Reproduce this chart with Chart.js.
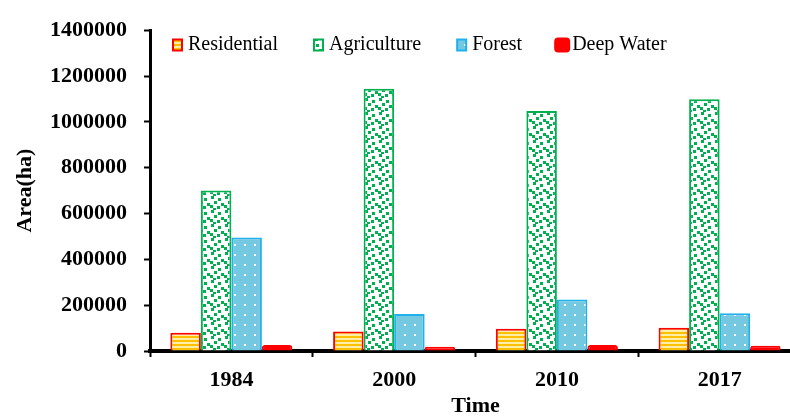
<!DOCTYPE html>
<html>
<head>
<meta charset="utf-8">
<script src="https://cdn.jsdelivr.net/npm/chart.js@4/dist/chart.umd.min.js"></script>
<style>
  html, body { margin: 0; padding: 0; background: #ffffff; overflow: hidden; }
  #wrap { width: 790px; height: 417px; overflow: hidden; }
  canvas { display: block; }
</style>
</head>
<body>
<div id="wrap"><canvas id="c" width="801" height="417"></canvas></div>
<script>
const categories = ['1984', '2000', '2010', '2017'];
const seriesNames = ['Residential', 'Agriculture', 'Forest', 'Deep Water'];
const residential = [80000, 85000, 97000, 101000];
const agriculture = [700000, 1145000, 1047000, 1099000];
const forest = [495000, 161000, 225000, 165000];
const deepWater = [26000, 19000, 26000, 23000];
const yTicks = [0, 200000, 400000, 600000, 800000, 1000000, 1200000, 1400000];

function makePattern(w, h, draw) {
  const c = document.createElement('canvas');
  c.width = w; c.height = h;
  const g = c.getContext('2d');
  draw(g);
  return g.createPattern(c, 'repeat');
}
const stripes = makePattern(4, 4, g => {
  g.fillStyle = '#ffeea8'; g.fillRect(0, 0, 4, 4);
  g.fillStyle = '#ffc000'; g.fillRect(0, 0, 4, 2);
});
const confetti = makePattern(14, 14, g => {
  g.fillStyle = '#ffffff'; g.fillRect(0, 0, 14, 14);
  g.fillStyle = '#00b050';
  [[1,0],[8,2],[4,5],[11,7],[0,9],[7,10],[3,12]].forEach(p => g.fillRect(p[0], p[1], 3, 3));
});
const dots = makePattern(10, 10, g => {
  g.fillStyle = '#74c8df'; g.fillRect(0, 0, 10, 10);
  g.fillStyle = '#ffffff'; g.fillRect(4, 4, 2, 2);
});

const serif = '"Liberation Serif", "Times New Roman", serif';

// Legend drawn inside the plot area, one row, using each dataset's own fill/border
const insideLegend = {
  id: 'insideLegend',
  afterDraw(chart) {
    const ctx = chart.ctx;
    ctx.save();
    ctx.font = '20px ' + serif;
    ctx.textBaseline = 'middle';
    ctx.textAlign = 'left';
    let x = 172;
    const cy = 45;
    chart.data.datasets.forEach((ds, i) => {
      const big = i === 3;
      const bw = big ? 16 : 11, bh = big ? 15 : 13;
      const by = cy - bh / 2;
      ctx.fillStyle = ds.backgroundColor;
      ctx.strokeStyle = ds.borderColor;
      ctx.lineWidth = 2;
      ctx.beginPath();
      if (big) {
        ctx.roundRect(x + 1, by + 1, bw - 2, bh - 2, 3);
      } else {
        ctx.rect(x + 1, by + 1, bw - 2, bh - 2);
      }
      ctx.fill();
      ctx.stroke();
      const tx = x + bw + (big ? 2 : 5);
      ctx.fillStyle = '#000000';
      ctx.fillText(ds.label, tx, cy);
      x = tx + ctx.measureText(ds.label).width + (i === 2 ? 32 : 35);
    });
    ctx.restore();
  }
};

new Chart(document.getElementById('c'), {
  type: 'bar',
  data: {
    labels: categories,
    datasets: [
      { label: seriesNames[0], data: residential, backgroundColor: stripes, borderColor: '#ff0000', borderWidth: 2 },
      { label: seriesNames[1], data: agriculture, backgroundColor: confetti, borderColor: '#00b050', borderWidth: 2 },
      { label: seriesNames[2], data: forest, backgroundColor: dots, borderColor: '#1fb1ec', borderWidth: 2 },
      { label: seriesNames[3], data: deepWater, backgroundColor: '#ff0000', borderColor: '#ff0000', borderWidth: 2,
        borderRadius: { topLeft: 4, topRight: 4 }, borderSkipped: 'bottom' }
    ]
  },
  options: {
    responsive: false,
    animation: false,
    devicePixelRatio: 1,
    layout: { padding: { top: 23, left: 0, right: 0, bottom: 0 } },
    datasets: { bar: { categoryPercentage: 0.75, barPercentage: 1.0 } },
    plugins: {
      tooltip: { enabled: false },
      legend: { display: false }
    },
    scales: {
      x: {
        afterFit(scale) { scale.height = 66; },
        grid: { display: true, drawOnChartArea: false, offset: true, color: '#000000', tickLength: 6, tickWidth: 2 },
        border: { display: true, color: '#000000', width: 4 },
        ticks: { color: '#000000', font: { family: serif, size: 22, weight: 'bold' }, padding: 10 },
        title: { display: true, text: 'Time', color: '#000000', font: { family: serif, size: 22, weight: 'bold', lineHeight: 1.0 }, padding: { top: 0, bottom: 0 } }
      },
      y: {
        min: 0,
        max: 1400000,
        afterFit(scale) { scale.width = 150; },
        afterBuildTicks(scale) { scale.ticks = yTicks.map(v => ({ value: v })); },
        grid: { display: true, drawOnChartArea: false, color: '#000000', tickLength: 6, tickWidth: 2 },
        border: { display: true, color: '#000000', width: 3 },
        ticks: { color: '#000000', font: { family: serif, size: 22, weight: 'bold' }, padding: 17, callback: v => String(v) },
        title: { display: true, text: 'Area(ha)', color: '#000000', font: { family: serif, size: 22, weight: 'bold' }, padding: { top: 12, bottom: 0 } }
      }
    }
  },
  plugins: [insideLegend]
});
</script>
</body>
</html>
